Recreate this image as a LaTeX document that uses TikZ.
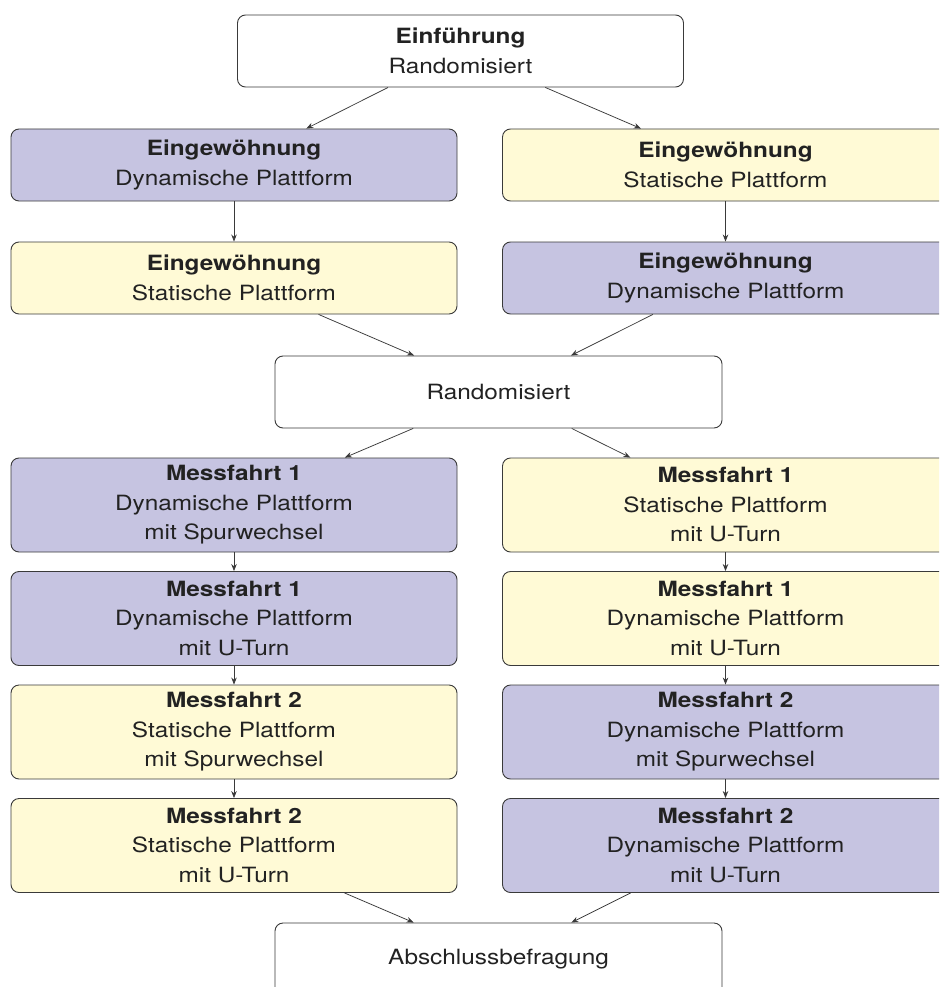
\documentclass[tikz,border=0pt]{standalone}
\usepackage{fontspec}
\setmainfont{TeX Gyre Heros}[FakeStretch=1.16]
\usetikzlibrary{arrows.meta}

\definecolor{lavender}{HTML}{C6C4E1}
\definecolor{cream}{HTML}{FFFAD6}
\definecolor{edgegray}{HTML}{3A3A3A}
\definecolor{inkgray}{HTML}{222222}

\tikzset{
  box/.style={draw=edgegray, line width=0.9pt, rounded corners=8pt,
    minimum width=446pt, align=center, inner sep=0pt, text=inkgray,
    font=\fontsize{21}{29.5}\selectfont},
  shortbox/.style={box, minimum height=72pt},
  tallbox/.style={box, minimum height=94pt},
  dyn/.style={fill=lavender},
  stat/.style={fill=cream},
  plain/.style={fill=white},
  flow/.style={draw=edgegray, line width=0.75pt,
    -{Stealth[length=7pt,width=5.5pt]}}
}

\begin{document}
\begin{tikzpicture}[x=1pt,y=1pt]
  \useasboundingbox (0,0) rectangle (939,-987);
  \clip (0,0) rectangle (939,-987);

  % start
  \node[shortbox,plain] (intro) at (460.5,-51) {\textbf{Einführung}\\Randomisiert};

  % familiarisation, both orders
  \node[shortbox,dyn]  (l1) at (234,-165)   {\textbf{Eingewöhnung}\\Dynamische Plattform};
  \node[shortbox,stat] (r1) at (725.5,-165) {\textbf{Eingewöhnung}\\Statische Plattform};
  \node[shortbox,stat] (l2) at (234,-278)   {\textbf{Eingewöhnung}\\Statische Plattform};
  \node[shortbox,dyn]  (r2) at (725.5,-278) {\textbf{Eingewöhnung}\\Dynamische Plattform};

  \node[shortbox,plain, minimum width=447pt] (rand) at (498.5,-392) {Randomisiert};

  % measurement drives, left branch
  \node[tallbox,dyn]  (ml1) at (234,-505)   {\textbf{Messfahrt 1}\\Dynamische Plattform\\mit Spurwechsel};
  \node[tallbox,dyn]  (ml2) at (234,-618.5) {\textbf{Messfahrt 1}\\Dynamische Plattform\\mit U-Turn};
  \node[tallbox,stat] (ml3) at (234,-732)   {\textbf{Messfahrt 2}\\Statische Plattform\\mit Spurwechsel};
  \node[tallbox,stat] (ml4) at (234,-845.5) {\textbf{Messfahrt 2}\\Statische Plattform\\mit U-Turn};

  % measurement drives, right branch
  \node[tallbox,stat] (mr1) at (725.5,-505)   {\textbf{Messfahrt 1}\\Statische Plattform\\mit U-Turn};
  \node[tallbox,stat] (mr2) at (725.5,-618.5) {\textbf{Messfahrt 1}\\Dynamische Plattform\\mit U-Turn};
  \node[tallbox,dyn]  (mr3) at (725.5,-732)   {\textbf{Messfahrt 2}\\Dynamische Plattform\\mit Spurwechsel};
  \node[tallbox,dyn]  (mr4) at (725.5,-845.5) {\textbf{Messfahrt 2}\\Dynamische Plattform\\mit U-Turn};

  % final questionnaire
  \node[shortbox,plain, minimum width=447pt] (final) at (498.5,-959) {Abschlussbefragung};

  % connectors
  \draw[flow] (intro) -- (l1);
  \draw[flow] (intro) -- (r1);
  \draw[flow] (l1) -- (l2);
  \draw[flow] (r1) -- (r2);
  \draw[flow] (l2) -- (rand);
  \draw[flow] (r2) -- (rand);
  \draw[flow] (rand) -- (ml1);
  \draw[flow] (rand) -- (mr1);
  \draw[flow] (ml1) -- (ml2);
  \draw[flow] (ml2) -- (ml3);
  \draw[flow] (ml3) -- (ml4);
  \draw[flow] (mr1) -- (mr2);
  \draw[flow] (mr2) -- (mr3);
  \draw[flow] (mr3) -- (mr4);
  \draw[flow] (ml4) -- (final);
  \draw[flow] (mr4) -- (final);
\end{tikzpicture}
\end{document}
